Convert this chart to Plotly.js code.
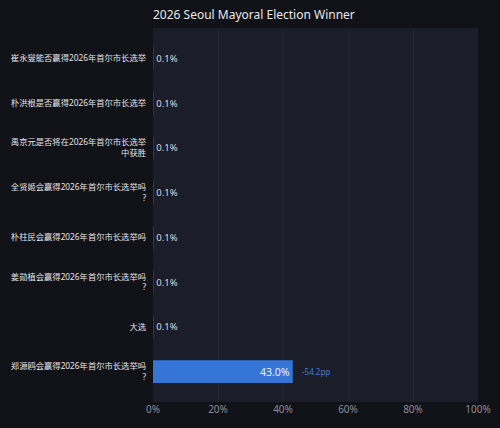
<!DOCTYPE html>
<html><head><meta charset="utf-8">
<script src="https://cdn.plot.ly/plotly-3.0.1.min.js"></script>
<style>html,body{margin:0;padding:0;background:#111217;}</style>
</head><body><div id="chart" style="width:500px;height:428px;"></div>
<script>
const categories = [
  "崔永燮能否赢得2026年首尔市长选举",
  "朴洪根是否赢得2026年首尔市长选举",
  "禹京元是否将在2026年首尔市长选举<br>中获胜",
  "全贤姬会赢得2026年首尔市长选举吗<br>?",
  "朴柱民会赢得2026年首尔市长选举吗",
  "姜勋植会赢得2026年首尔市长选举吗<br>?",
  "大选",
  "郑源鸥会赢得2026年首尔市长选举吗<br>?"
];
const values = [0.1, 0.1, 0.1, 0.1, 0.1, 0.1, 0.1, 43.0];
const valueLabels = ["0.1%", "0.1%", "0.1%", "0.1%", "0.1%", "0.1%", "0.1%", "43.0%"];
const changeCategory = categories[7];
const changeValue = 43.0;
const changeLabel = "-54.2pp";
const xTickVals = [0, 20, 40, 60, 80, 100];
const xTickText = ["0%", "20%", "40%", "60%", "80%", "100%"];

const font = "'Noto Sans', 'Noto Sans CJK SC', sans-serif";
Plotly.newPlot("chart", [{
  type: "bar",
  orientation: "h",
  x: values,
  y: categories,
  text: valueLabels,
  textposition: "auto",
  insidetextanchor: "end",
  outsidetextfont: {color: "#d8d8de", size: 9.5, family: font},
  insidetextfont: {color: "#f0f0f5", size: 10.5, family: font},
  marker: {color: "#3575d8", line: {width: 0}},
  cliponaxis: false,
  hoverinfo: "none"
}], {
  width: 500, height: 428,
  paper_bgcolor: "#111217",
  plot_bgcolor: "#1b1d29",
  margin: {l: 153, r: 22, t: 28, b: 26},
  bargap: 0.49,
  title: {text: "2026 Seoul Mayoral Election Winner", x: 0.306, xanchor: "left", y: 0.965, yanchor: "middle",
          font: {family: font, size: 12, color: "#e6e6ea"}},
  showlegend: false,
  xaxis: {range: [0, 100], tickvals: xTickVals, ticktext: xTickText, showgrid: true,
          gridcolor: "#23252f", zeroline: false, showline: false,
          tickfont: {family: font, size: 10, color: "#8a8c99"}, fixedrange: true},
  yaxis: {type: "category", range: [7.68, -0.68], showgrid: false, zeroline: false,
          ticklabelstandoff: 6, tickfont: {family: font, size: 8.3, color: "#e2e2e8"}},
  annotations: [{x: changeValue, y: changeCategory, text: changeLabel, showarrow: false,
                 xanchor: "left", xshift: 7, font: {family: font, size: 8, color: "#3f7ddc"}}]
}, {displayModeBar: false, staticPlot: true});
</script></body></html>
